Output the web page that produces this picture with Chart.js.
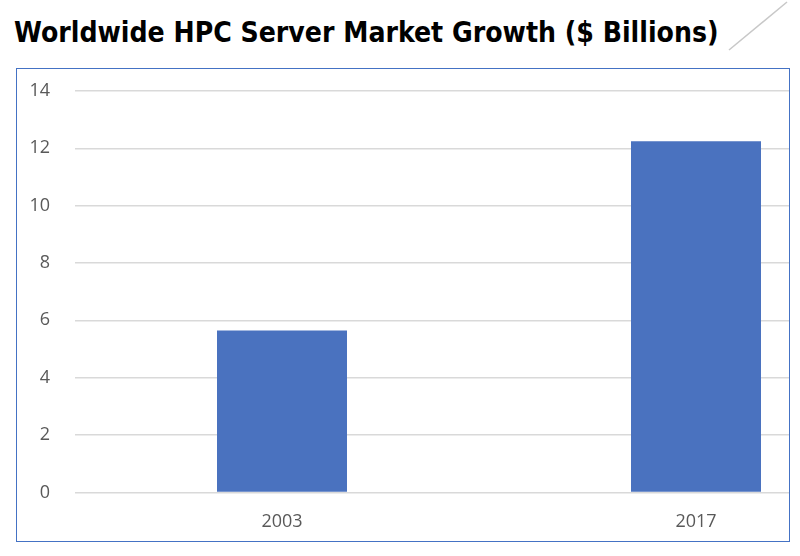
<!DOCTYPE html>
<html>
<head>
<meta charset="utf-8">
<script src="https://cdn.jsdelivr.net/npm/chart.js@4"></script>
<style>
  body { margin: 0; background: #fff; width: 800px; height: 556px; overflow: hidden; position: relative; }
  #title {
    position: absolute; left: 14px; top: 16px;
    font-family: "DejaVu Sans Condensed", "DejaVu Sans", sans-serif;
    font-weight: bold; font-size: 28.1px; color: #000; white-space: nowrap;
  }
  #deco { position: absolute; left: 725px; top: 0; }
  #box {
    position: absolute; left: 16px; top: 68px; width: 772px; height: 472px;
    border: 1.5px solid #4472c4; overflow: hidden;
  }
  #chart { position: absolute; left: 0; top: 0; }
</style>
</head>
<body>
<div id="title">Worldwide HPC Server Market Growth ($ Billions)</div>
<svg id="deco" width="70" height="60"><line x1="62" y1="2" x2="4" y2="50" stroke="#c8c8c8" stroke-width="1.5"/></svg>
<div id="box"><canvas id="chart" width="886" height="493"></canvas></div>
<script>
const years = ['2003', '2017'];
const revenue = [5.65, 12.25];
const yTicks = [0, 2, 4, 6, 8, 10, 12, 14];

const ctx = document.getElementById('chart').getContext('2d');
const chart = new Chart(ctx, {
    type: 'bar',
    data: {
        labels: years,
        datasets: [{
            data: revenue,
            backgroundColor: '#4a72bf',
            borderWidth: 0,
            categoryPercentage: 1,
            barPercentage: 0.314
        }]
    },
    options: {
        responsive: false,
        animation: false,
        layout: { padding: { top: 22, bottom: 10, left: 0, right: 0 } },
        plugins: { legend: { display: false }, tooltip: { enabled: false } },
        scales: {
            x: {
                grid: { display: false, drawTicks: false },
                border: { display: false },
                ticks: {
                    color: '#595959',
                    padding: 19,
                    font: { family: 'Open Sans', size: 18 }
                }
            },
            y: {
                min: 0,
                max: 14,
                afterBuildTicks: scale => { scale.ticks = yTicks.map(v => ({value: v})); },
                afterFit: scale => {
                    // fixed axis width; drop the tick padding Chart.js adds above/below
                    scale.width = 58;
                    scale.paddingTop = 0;
                    scale.paddingBottom = 0;
                },
                grid: { color: '#d9d9d9', lineWidth: 1.5, drawTicks: false },
                border: { display: false },
                ticks: {
                    color: '#595959',
                    padding: 25,
                    font: { family: 'Open Sans', size: 18 }
                }
            }
        }
    }
});
</script>
</body>
</html>
